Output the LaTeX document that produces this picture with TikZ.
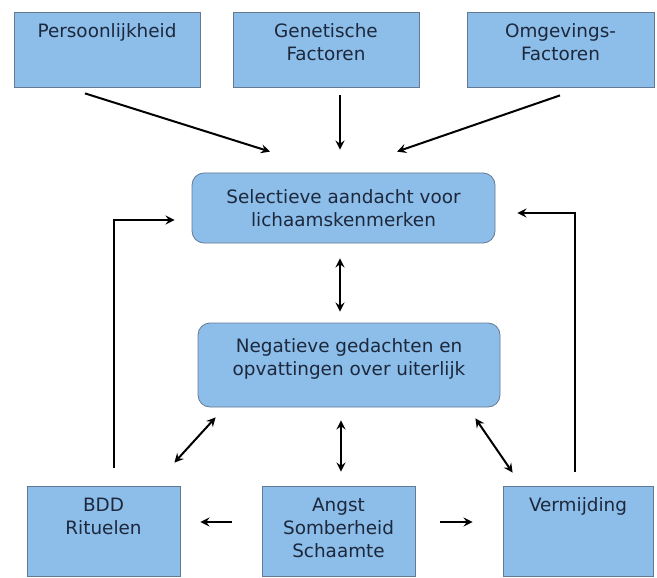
\documentclass[tikz,border=0pt]{standalone}
\usepackage{fontspec}
\setmainfont{DejaVu Sans}
\usetikzlibrary{arrows.meta}
\definecolor{boxblue}{RGB}{141,189,233}
\definecolor{boxline}{RGB}{100,122,148}
\definecolor{boxtext}{RGB}{28,40,60}
\newcommand{\toptxt}[3]{\parbox[c][#1][t]{#2}{\centering\vspace*{6pt}#3}}

\begin{document}
\begin{tikzpicture}[x=0.5pt,y=-0.5pt,
	every node/.style={font=\fontsize{9.2}{11.5}\selectfont, text=boxtext},
	factor/.style={draw=boxline, fill=boxblue, inner sep=0pt},
	thought/.style={draw=boxline, fill=boxblue, rounded corners=6pt, minimum width=151.5pt, minimum height=35pt, align=center},
	pijl/.style={->,>=stealth,line width=1pt},
	dubbel/.style={<->,>=stealth,line width=1pt}]
					\useasboundingbox (0,0) rectangle (657,577);
					\node[factor] (pers) at (107,49.5) {\toptxt{37.5pt}{93pt}{Persoonlijkheid}};
					\node[factor] (gen) at (326,49.5) {\toptxt{37.5pt}{93pt}{Genetische\\Factoren}};
					\node[factor] (omg) at (560.5,49.5) {\toptxt{37.5pt}{93.5pt}{Omgevings-\\Factoren}};
					\node[thought] (sel) at (343.5,208) {Selectieve aandacht voor\\lichaamskenmerken};
					\node[thought, minimum width=151pt, minimum height=42pt, text depth=8pt] (neg) at (349,365) {Negatieve gedachten en\\opvattingen over uiterlijk};
					\node[factor] (bdd) at (103.5,531) {\toptxt{45pt}{76.5pt}{BDD\\Rituelen}};
					\node[factor] (angst) at (338.5,531) {\toptxt{45pt}{76.5pt}{Angst\\Somberheid\\Schaamte}};
					\node[factor] (verm) at (578,531) {\toptxt{45pt}{75pt}{Vermijding}};
					\draw[pijl] ([shift={(-22,6)}]pers.south) to ([shift={(-73.5,-21)}]sel.north);
					\draw[pijl] ([shift={(14,8)}]gen.south) to ([shift={(-3.5,-23)}]sel.north);
					\draw[pijl] ([shift={(-0.5,8)}]omg.south) to ([shift={(53.5,-21)}]sel.north);
					\draw[dubbel] ([shift={(-3.5,15)}]sel.south) to ([shift={(-9,-11)}]neg.north);
					\draw[dubbel] ([shift={(18,10)}]neg.south west) to ([shift={(-6,-23)}]bdd.north east);
					\draw[dubbel] ([shift={(-8,13)}]neg.south) to ([shift={(2.5,-14)}]angst.north);
					\draw[dubbel] ([shift={(-25,11)}]neg.south east) to ([shift={(10,-13)}]verm.north west);
					\draw[pijl] ([shift={(-30,-9)}]angst.west) to ([shift={(20,-9)}]bdd.east);
					\draw[pijl] ([shift={(25,-9)}]angst.east) to ([shift={(-30,-9)}]verm.west);
					\draw[pijl] ([shift={(10,-18)}]bdd.north) |- ([shift={(-17,12)}]sel.west);
					\draw[pijl] ([shift={(-3,-14)}]verm.north) |- ([shift={(22,5)}]sel.east);
				\end{tikzpicture}
\end{document}
